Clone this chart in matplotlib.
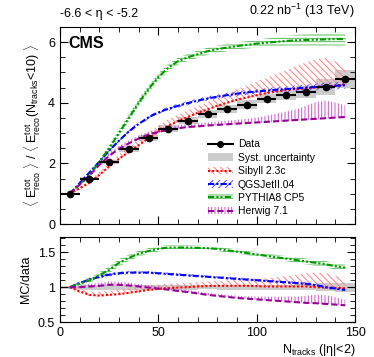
import numpy as np
import matplotlib

matplotlib.use("Agg")
import matplotlib.pyplot as plt
from matplotlib.lines import Line2D
from matplotlib.patches import Patch

plt.rcParams["font.family"] = ["Liberation Sans", "DejaVu Sans"]
plt.rcParams["mathtext.fontset"] = "custom"
plt.rcParams["mathtext.rm"] = "Liberation Sans"
plt.rcParams["mathtext.it"] = "Liberation Sans:italic"
plt.rcParams["hatch.linewidth"] = 0.7

# --- data ---
nch_data = [5, 15, 25, 35, 45, 55, 65, 75, 85, 95, 105, 115, 125, 135, 145]
data = [1.0, 1.5, 2.05, 2.48, 2.84, 3.14, 3.41, 3.63, 3.80, 3.94, 4.13, 4.24, 4.36, 4.52, 4.77]
data_syst = [0.02, 0.05, 0.07, 0.09, 0.1, 0.11, 0.12, 0.12, 0.13, 0.14, 0.15, 0.16, 0.2, 0.27, 0.3]

nch_mc = np.arange(5, 150, 5)
pythia = [1.0, 1.3, 1.62, 2.05, 2.5, 3.0, 3.5, 4.0, 4.45, 4.85, 5.15, 5.37, 5.5, 5.6, 5.7,
          5.77, 5.82, 5.87, 5.91, 5.95, 5.98, 6.01, 6.04, 6.06, 6.07, 6.08, 6.09, 6.1, 6.1]
qgsjet = [1.0, 1.35, 1.7, 2.05, 2.42, 2.75, 3.05, 3.3, 3.52, 3.68, 3.8, 3.9, 3.99, 4.07, 4.14,
          4.2, 4.25, 4.3, 4.34, 4.37, 4.4, 4.43, 4.45, 4.47, 4.5, 4.52, 4.54, 4.56, 4.58]
sibyll = [1.0, 1.18, 1.36, 1.62, 1.9, 2.15, 2.38, 2.6, 2.83, 3.04, 3.24, 3.4, 3.53, 3.67, 3.78,
          3.9, 4.0, 4.1, 4.17, 4.25, 4.32, 4.37, 4.42, 4.45, 4.48, 4.5, 4.53, 4.56, 4.6]
herwig = [1.0, 1.3, 1.6, 1.95, 2.25, 2.48, 2.66, 2.82, 2.95, 3.04, 3.1, 3.16, 3.2, 3.22, 3.25,
          3.27, 3.29, 3.31, 3.33, 3.35, 3.37, 3.39, 3.41, 3.43, 3.45, 3.47, 3.49, 3.51, 3.53]

pythia_err = [0.0, 0.03, 0.05, 0.08, 0.1, 0.12, 0.12, 0.12, 0.12, 0.12, 0.12, 0.12, 0.12, 0.12, 0.12,
              0.12, 0.12, 0.12, 0.12, 0.13, 0.14, 0.15, 0.16, 0.18, 0.19, 0.2, 0.21, 0.22, 0.22]
qgsjet_err = [0.0, 0.03, 0.04, 0.05, 0.05, 0.06, 0.06, 0.06, 0.06, 0.06, 0.07, 0.07, 0.07, 0.07, 0.07,
              0.07, 0.08, 0.08, 0.08, 0.08, 0.08, 0.09, 0.09, 0.1, 0.1, 0.11, 0.12, 0.12, 0.12]
sibyll_up = [0.0, 0.04, 0.07, 0.1, 0.12, 0.14, 0.16, 0.18, 0.2, 0.2, 0.21, 0.21, 0.22, 0.22, 0.24,
             0.27, 0.3, 0.35, 0.4, 0.45, 0.5, 0.58, 0.65, 0.75, 0.85, 0.93, 0.95, 0.8, 0.6]
herwig_up = [0.0, 0.04, 0.06, 0.08, 0.1, 0.1, 0.1, 0.1, 0.1, 0.1, 0.1, 0.1, 0.1, 0.1, 0.1,
             0.11, 0.12, 0.13, 0.14, 0.16, 0.2, 0.25, 0.3, 0.35, 0.45, 0.55, 0.58, 0.5, 0.38]

ratio_pythia = [1.0, 1.05, 1.1, 1.17, 1.25, 1.35, 1.42, 1.48, 1.52, 1.55, 1.57, 1.57, 1.57, 1.565, 1.56,
                1.55, 1.53, 1.51, 1.49, 1.47, 1.45, 1.43, 1.41, 1.39, 1.37, 1.35, 1.33, 1.3, 1.28]
ratio_qgsjet = [1.0, 1.06, 1.11, 1.15, 1.18, 1.2, 1.21, 1.21, 1.21, 1.2, 1.19, 1.18, 1.17, 1.16, 1.15,
                1.14, 1.13, 1.12, 1.11, 1.1, 1.09, 1.08, 1.07, 1.06, 1.05, 1.03, 1.0, 0.98, 0.96]
ratio_sibyll = [1.0, 0.94, 0.89, 0.88, 0.89, 0.9, 0.92, 0.94, 0.96, 0.975, 0.985, 0.995, 1.0, 1.01, 1.015,
                1.02, 1.02, 1.02, 1.02, 1.015, 1.01, 1.01, 1.01, 1.01, 1.01, 1.0, 0.995, 0.99, 0.985]
ratio_herwig = [1.0, 1.0, 1.01, 1.02, 1.035, 1.035, 1.025, 1.01, 0.995, 0.98, 0.965, 0.945, 0.93, 0.91, 0.89,
                0.875, 0.86, 0.845, 0.835, 0.825, 0.815, 0.805, 0.795, 0.785, 0.775, 0.77, 0.76, 0.75, 0.74]

C_RED, C_BLUE, C_GREEN, C_PURPLE = "#ff0000", "#0000ff", "#009900", "#990099"
H_RED, H_BLUE, H_GREEN, H_PURPLE = "#ff8080", "#5050ff", "#55bb55", "#cc55cc"

models = [
    # name, values, ratio, lower, upper, line color, hatch color, hatch, dashes
    ("Sibyll 2.3c", sibyll, ratio_sibyll, [0.03] * len(sibyll), sibyll_up, C_RED, H_RED, "\\\\\\\\\\", (0, (1, 1))),
    ("QGSJetII.04", qgsjet, ratio_qgsjet, qgsjet_err, qgsjet_err, C_BLUE, H_BLUE, "/////", (0, (3, 1, 1, 1))),
    ("PYTHIA8 CP5", pythia, ratio_pythia, pythia_err, pythia_err, C_GREEN, H_GREEN, "-----", (0, (3, 1, 1, 1, 1, 1))),
    ("Herwig 7.1", herwig, ratio_herwig, [0.02] * len(herwig), herwig_up, C_PURPLE, H_PURPLE, "|||||", (0, (3, 1.5))),
]

fig = plt.figure(figsize=(3.74, 3.57), dpi=100)
ax = fig.add_axes([0.1604, 0.3725, 0.789, 0.552])
axr = fig.add_axes([0.1604, 0.098, 0.789, 0.238])

x_mc = np.asarray(nch_mc, dtype=float)
d = np.asarray(data)
s = np.asarray(data_syst)

# systematic boxes
ax.bar(nch_data, 2 * s, bottom=d - s, width=10, color="0.8", linewidth=0, zorder=1)
axr.bar(nch_data, 2 * s / d, bottom=1 - s / d, width=10, color="0.8", linewidth=0, zorder=1)

handles = [Line2D([], [], color="k", marker="o", ms=4, lw=1.5),
           Patch(facecolor="0.8", edgecolor="none")]
labels = ["Data", "Syst. uncertainty"]

for name, vals, ratio, lo, hi, lc, hc, hatch, dash in models:
    v = np.asarray(vals)
    r = np.asarray(ratio)
    lo = np.asarray(lo)
    hi = np.asarray(hi)
    ax.fill_between(x_mc, v - lo, v + hi, facecolor="none", edgecolor=hc,
                    hatch=hatch, linewidth=0, zorder=2)
    ax.plot(x_mc, v, color=lc, lw=1.5, linestyle=dash, zorder=3)
    axr.fill_between(x_mc, r * (1 - lo / v), r * (1 + hi / v), facecolor="none",
                     edgecolor=hc, hatch=hatch, linewidth=0, zorder=2)
    axr.plot(x_mc, r, color=lc, lw=1.5, linestyle=dash, zorder=3)
    handles.append((Patch(facecolor="none", edgecolor=hc, hatch=hatch, linewidth=0),
                    Line2D([], [], color=lc, lw=1.5, linestyle=dash)))
    labels.append(name)

ax.errorbar(nch_data, data, xerr=5, yerr=0.02, fmt="o", color="k", ms=4.5,
            elinewidth=1.5, capsize=0, zorder=5)

for a in (ax, axr):
    a.set_xlim(0, 150)
    a.set_xticks([0, 50, 100, 150])
    a.set_xticks(np.arange(0, 151, 10), minor=True)
    a.tick_params(which="both", direction="in", top=True, right=True, labelsize=9)
    a.tick_params(which="major", length=6)
    a.tick_params(which="minor", length=3.5)

ax.set_ylim(0, 6.5)
ax.set_yticks([0, 2, 4, 6])
ax.set_yticks(np.arange(0, 6.6, 0.5), minor=True)
ax.tick_params(labelbottom=False)
ax.set_ylabel(r"$\langle$ E$^{\rm tot}_{\rm reco}$ $\rangle$ / $\langle$ E$^{\rm tot}_{\rm reco}$(N$_{\rm tracks}$<10) $\rangle$",
              fontsize=9)

axr.set_ylim(0.5, 1.72)
axr.set_yticks([0.5, 1, 1.5])
axr.set_yticklabels(["0.5", "1", "1.5"])
axr.set_yticks(np.arange(0.5, 1.71, 0.1), minor=True)
axr.set_ylabel("MC/data", fontsize=9)
axr.set_xlabel(r"N$_{\rm tracks}$ (|η|<2)", fontsize=9, loc="right", labelpad=2)
fig.align_ylabels([ax, axr])

ax.text(0.03, 0.955, "CMS", transform=ax.transAxes, fontsize=11.5,
        fontweight="bold", va="top")
fig.text(0.1604, 0.945, "-6.6 < η < -5.2", fontsize=9, ha="left", va="bottom")
fig.text(0.949, 0.945, r"0.22 nb$^{-1}$ (13 TeV)", fontsize=9, ha="right", va="bottom")

ax.legend(handles, labels, loc="upper left", bbox_to_anchor=(0.5, 0.43),
          frameon=False, fontsize=7.5, handlelength=2.4, handletextpad=0.5,
          labelspacing=0.33, borderpad=0, borderaxespad=0)

fig.savefig("out.png", dpi=100)
plt.close(fig)
